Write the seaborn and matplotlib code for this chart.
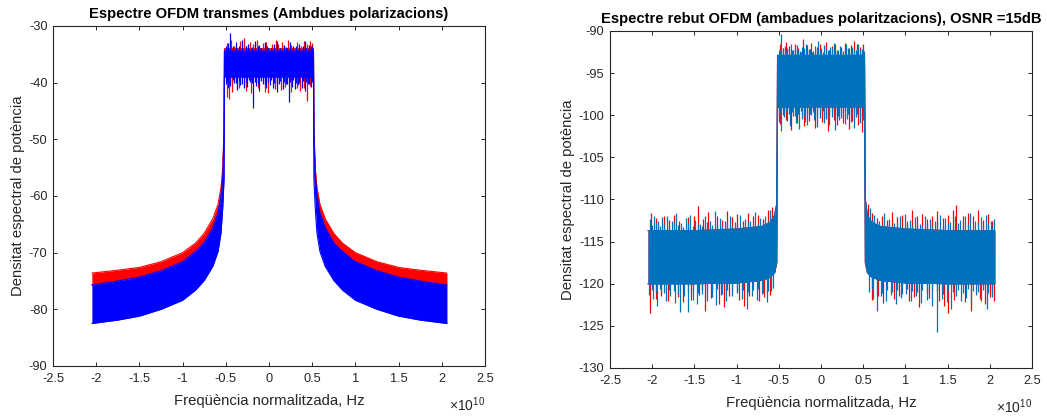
import numpy as np
import pandas as pd
import matplotlib
matplotlib.use("Agg")
import matplotlib.pyplot as plt
from matplotlib.ticker import FuncFormatter
import seaborn as sns

# ---------------- DATA (frequency in units of 1e10 Hz, PSD in dB) ----------------
# Left panel: transmitted spectrum (skirts + in-band core)
tx_x = [-2.05, -1.75, -1.5, -1.25, -1.0, -0.85, -0.75, -0.65, -0.59, -0.555, -0.535, -0.52,
        -0.515, 0.515,
        0.52, 0.535, 0.555, 0.59, 0.65, 0.75, 0.85, 1.0, 1.25, 1.5, 1.75, 2.06]
tx_red_top = [-73.6, -73.1, -72.6, -71.6, -70.0, -68.3, -66.6, -64.0, -61.5, -58.5, -55.0, -48.0,
              -34.0, -34.0,
              -48.0, -55.0, -58.5, -61.5, -64.0, -66.6, -68.3, -70.0, -71.6, -72.6, -73.1, -73.6]
tx_blue_top = [-75.7, -75.0, -74.3, -73.2, -71.6, -69.8, -68.3, -65.6, -63.0, -60.0, -56.5, -49.0,
               -34.4, -34.4,
               -49.0, -56.5, -60.0, -63.0, -65.6, -68.3, -69.8, -71.6, -73.2, -74.3, -75.0, -75.7]
tx_blue_bottom = [-82.5, -81.9, -81.2, -80.0, -78.4, -76.6, -74.9, -72.4, -69.8, -66.5, -62.0, -57.0,
                  -39.0, -39.0,
                  -57.0, -62.0, -66.5, -69.8, -72.4, -74.9, -76.6, -78.4, -80.0, -81.2, -81.9, -82.5]

# in-band spikes, left panel
tx_blue_up_x = [-0.50, -0.47, -0.45, -0.42, -0.38, -0.35, -0.31, -0.27, -0.24, -0.20, -0.16, -0.12, -0.09, -0.05,
                -0.02, 0.02, 0.06, 0.09, 0.13, 0.17, 0.20, 0.24, 0.28, 0.31, 0.35, 0.39, 0.42, 0.46, 0.49]
tx_blue_up = [-33.6, -33.0, -31.2, -33.5, -32.8, -33.8, -32.4, -33.6, -33.2, -33.9, -32.6, -33.4, -33.9, -32.9,
              -33.5, -33.8, -33.2, -32.6, -34.0, -33.3, -33.7, -32.9, -33.6, -34.0, -33.1, -33.8, -32.7, -33.4, -33.6]
tx_red_up_x = [-0.49, -0.44, -0.40, -0.33, -0.29, -0.22, -0.18, -0.14, -0.07, -0.03, 0.04, 0.08, 0.11, 0.15,
               0.22, 0.26, 0.33, 0.37, 0.41, 0.44, 0.48, 0.50]
tx_red_up = [-33.0, -32.4, -33.6, -32.7, -32.2, -32.9, -33.1, -32.5, -33.0, -32.8, -33.2, -32.4, -33.1, -32.9,
             -32.5, -33.3, -32.9, -33.5, -32.6, -33.2, -32.7, -33.0]
tx_blue_dn_x = [-0.50, -0.48, -0.45, -0.41, -0.37, -0.33, -0.29, -0.25, -0.22, -0.19, -0.15, -0.11, -0.07, -0.03,
                0.01, 0.05, 0.09, 0.12, 0.16, 0.20, 0.23, 0.27, 0.30, 0.34, 0.38, 0.42, 0.45, 0.49]
tx_blue_dn = [-40.2, -41.0, -40.6, -40.0, -41.3, -40.4, -41.0, -40.8, -39.9, -44.5, -40.6, -41.4, -40.2, -41.0,
              -40.5, -40.9, -41.6, -40.2, -41.1, -40.3, -43.5, -40.7, -41.2, -40.4, -40.9, -41.5, -40.2, -40.8]
tx_red_dn_x = [-0.49, -0.46, -0.43, -0.35, -0.27, -0.21, -0.13, -0.05, -0.01, 0.07, 0.14, 0.18, 0.25, 0.32,
               0.36, 0.40, 0.44, 0.47]
tx_red_dn = [-42.5, -42.8, -41.6, -41.0, -41.5, -41.8, -41.0, -41.6, -41.9, -41.2, -41.3, -40.8, -41.7, -40.9,
             -41.4, -41.0, -43.2, -40.6]

# fine in-band fuzz positions (shared by both panels)
band_fine_x = [-0.485, -0.45, -0.415, -0.38, -0.345, -0.31, -0.27, -0.235, -0.20, -0.16, -0.125, -0.09, -0.05,
               -0.015, 0.02, 0.06, 0.095, 0.13, 0.17, 0.205, 0.24, 0.28, 0.315, 0.35, 0.39, 0.425, 0.46, 0.495]
tx_fine_up = [-33.9, -33.6, -34.0, -33.7, -33.5, -33.9, -33.6, -34.0, -33.7, -33.8, -33.5, -33.9, -33.6, -33.8,
              -34.0, -33.7, -33.5, -33.9, -33.6, -33.8, -33.7, -34.0, -33.6, -33.8, -33.5, -33.9, -33.7, -33.6]
tx_fine_dn = [-39.8, -40.1, -39.6, -40.0, -39.7, -40.2, -39.9, -39.6, -40.0, -39.8, -40.1, -39.7, -40.3, -39.9,
              -39.6, -40.0, -40.1, -39.7, -39.9, -40.2, -39.8, -39.6, -40.0, -40.1, -39.7, -39.9, -40.2, -39.8]

# Right panel: received spectrum, OSNR = 15 dB (core band)
rx_x = [-2.05, -1.5, -1.0, -0.7, -0.6, -0.55, -0.525, -0.515, 0.515, 0.525, 0.55, 0.6, 0.7, 1.0, 1.5, 2.06]
rx_top = [-113.7, -113.7, -113.5, -113.2, -112.7, -111.9, -110.5, -92.9, -92.9, -110.0, -111.9, -112.7,
          -113.2, -113.5, -113.7, -113.7]
rx_bottom = [-120.0, -120.0, -119.9, -119.6, -119.2, -118.7, -117.5, -99.0, -99.0, -117.5, -118.7, -119.2,
             -119.6, -119.9, -120.0, -120.0]

# Right panel spikes (noise floor, both sides of the band)
rx_blue_up_x = [-2.03, -1.98, -1.93, -1.88, -1.83, -1.77, -1.72, -1.66, -1.60, -1.55, -1.49, -1.43, -1.38,
                -1.32, -1.26, -1.20, -1.14, -1.08, -1.02, -0.96, -0.90, -0.84, -0.78, -0.72, -0.66, -0.60,
                0.58, 0.63, 0.69, 0.75, 0.81, 0.87, 0.93, 0.99, 1.05, 1.11, 1.17, 1.23, 1.29, 1.35, 1.41,
                1.47, 1.53, 1.59, 1.65, 1.71, 1.77, 1.83, 1.89, 1.95, 2.01, 2.05]
rx_blue_up = [-112.3, -112.0, -112.6, -112.1, -111.9, -112.5, -111.6, -112.8, -112.2, -111.8, -112.4, -112.9,
              -112.0, -112.5, -111.4, -112.2, -112.6, -111.9, -112.7, -111.8, -112.3, -112.5, -111.5, -112.2,
              -111.9, -111.3,
              -111.0, -111.8, -112.5, -111.6, -112.3, -112.8, -112.0, -111.7, -112.4, -112.1, -112.9, -111.9,
              -112.3, -112.6, -111.8, -112.2, -112.7, -111.9, -112.4, -112.0, -111.6, -112.5, -112.1, -111.8,
              -112.6, -112.3]
rx_red_up_x = [-2.01, -1.95, -1.86, -1.80, -1.74, -1.68, -1.57, -1.51, -1.46, -1.40, -1.34, -1.23, -1.17,
               -1.11, -1.05, -0.99, -0.93, -0.87, -0.81, -0.75, -0.69, -0.63, -0.58,
               0.56, 0.61, 0.66, 0.72, 0.78, 0.84, 0.90, 0.96, 1.02, 1.08, 1.14, 1.20, 1.26, 1.32, 1.38,
               1.44, 1.50, 1.56, 1.60, 1.68, 1.74, 1.80, 1.86, 1.92, 1.98, 2.03]
rx_red_up = [-111.6, -112.2, -112.0, -112.4, -111.8, -112.6, -112.1, -111.9, -110.8, -112.3, -111.5, -112.0,
             -112.4, -111.4, -112.1, -111.7, -112.5, -111.6, -112.0, -111.8, -112.3, -111.2, -110.9,
             -110.5, -111.6, -112.2, -111.9, -112.4, -111.5, -112.1, -111.8, -112.5, -111.3, -112.0, -111.7,
             -112.3, -111.9, -111.4, -112.2, -111.8, -111.2, -110.7, -112.0, -111.6, -111.9, -111.2, -112.4,
             -111.7, -112.6]
rx_blue_dn_x = [-2.04, -1.99, -1.94, -1.89, -1.84, -1.79, -1.73, -1.67, -1.62, -1.57, -1.52, -1.47, -1.41,
                -1.35, -1.29, -1.24, -1.18, -1.12, -1.06, -1.00, -0.94, -0.88, -0.82, -0.76, -0.70, -0.64,
                -0.59,
                0.57, 0.62, 0.66, 0.71, 0.77, 0.83, 0.89, 0.95, 1.01, 1.07, 1.13, 1.19, 1.25, 1.31, 1.37,
                1.43, 1.49, 1.54, 1.60, 1.66, 1.72, 1.78, 1.84, 1.90, 1.97, 2.03]
rx_blue_dn = [-121.3, -121.8, -122.6, -121.1, -122.0, -121.5, -122.3, -123.3, -121.4, -123.4, -121.9, -122.4,
              -121.2, -122.0, -121.6, -122.5, -121.3, -122.1, -121.5, -121.0, -121.8, -123.0, -121.4, -121.9,
              -121.2, -122.2, -120.9,
              -121.0, -121.8, -123.2, -121.5, -122.0, -121.3, -122.4, -121.7, -121.2, -122.0, -121.5, -122.3,
              -121.9, -122.6, -125.7, -121.8, -122.2, -123.0, -121.5, -122.1, -121.7, -122.4, -121.3, -122.0,
              -123.0, -121.6]
rx_red_dn_x = [-2.02, -1.96, -1.90, -1.81, -1.70, -1.64, -1.54, -1.44, -1.38, -1.30, -1.21, -1.15, -1.09,
               -0.97, -0.91, -0.85, -0.73, -0.67, -0.61,
               0.60, 0.68, 0.74, 0.86, 0.92, 1.04, 1.10, 1.16, 1.28, 1.40, 1.46, 1.50, 1.58, 1.70, 1.78,
               1.88, 1.94, 2.00, 2.05]
rx_red_dn = [-123.5, -121.8, -121.4, -122.0, -121.6, -122.2, -121.9, -121.3, -123.2, -121.7, -122.4, -122.8,
             -121.5, -121.9, -122.6, -121.4, -122.0, -121.6, -121.3,
             -121.9, -121.4, -122.3, -121.8, -121.5, -122.0, -121.6, -122.8, -121.7, -122.1, -122.6, -123.5,
             -121.9, -122.2, -123.2, -121.8, -122.4, -121.6, -122.0]
# fine noise-floor fuzz (blue)
rx_fine_x = [-2.005, -1.955, -1.905, -1.855, -1.80, -1.745, -1.69, -1.63, -1.575, -1.52, -1.46, -1.405, -1.35,
             -1.29, -1.23, -1.17, -1.11, -1.05, -0.99, -0.93, -0.87, -0.81, -0.75, -0.69, -0.63, -0.57,
             0.605, 0.66, 0.72, 0.78, 0.84, 0.90, 0.96, 1.02, 1.08, 1.14, 1.20, 1.26, 1.32, 1.38, 1.44, 1.50,
             1.56, 1.62, 1.68, 1.74, 1.80, 1.86, 1.92, 1.98, 2.03]
rx_fine_up = [-113.0, -112.8, -113.2, -112.9, -113.1, -112.7, -113.0, -113.3, -112.8, -113.1, -112.9, -113.2,
              -112.7, -113.0, -112.9, -113.2, -112.8, -113.1, -112.9, -113.0, -112.7, -113.2, -112.9, -112.8,
              -112.6, -112.3,
              -112.4, -112.8, -113.0, -112.9, -113.2, -112.8, -113.1, -112.9, -113.0, -112.7, -113.2, -112.9,
              -113.1, -112.8, -113.0, -112.9, -113.2, -112.8, -113.0, -112.9, -113.1, -112.7, -113.0, -112.9,
              -113.1]
rx_fine_dn = [-120.8, -121.0, -120.6, -121.1, -120.7, -120.9, -121.2, -120.6, -121.0, -120.8, -121.1, -120.7,
              -120.9, -121.0, -120.6, -121.2, -120.8, -120.9, -121.1, -120.7, -121.0, -120.8, -120.6, -121.1,
              -120.9, -120.5,
              -120.6, -120.9, -121.1, -120.7, -121.0, -120.8, -121.2, -120.6, -120.9, -121.0, -120.7, -121.1,
              -120.8, -120.9, -121.2, -120.7, -121.0, -120.8, -121.1, -120.6, -120.9, -121.0, -120.7, -121.1,
              -120.8]

# Right panel in-band spikes
rxb_blue_up_x = [-0.50, -0.47, -0.43, -0.40, -0.36, -0.33, -0.29, -0.25, -0.22, -0.18, -0.14, -0.11, -0.07,
                 -0.03, 0.00, 0.04, 0.08, 0.11, 0.15, 0.19, 0.22, 0.26, 0.30, 0.33, 0.37, 0.41, 0.44, 0.48, 0.51]
rxb_blue_up = [-92.3, -90.3, -91.8, -92.0, -91.5, -92.2, -91.7, -92.4, -91.9, -91.6, -92.1, -92.5, -91.8,
               -91.2, -92.0, -91.7, -92.3, -91.9, -91.4, -92.2, -91.8, -92.4, -91.6, -92.0, -91.9, -92.3,
               -91.5, -92.1, -92.4]
rxb_red_up_x = [-0.49, -0.45, -0.41, -0.38, -0.31, -0.27, -0.21, -0.16, -0.12, -0.05, -0.01, 0.06, 0.13,
                0.17, 0.24, 0.28, 0.35, 0.39, 0.43, 0.46, 0.50]
rxb_red_up = [-91.6, -92.0, -91.3, -91.8, -91.5, -92.0, -91.0, -91.7, -91.4, -91.9, -91.6, -91.3, -91.8,
              -91.5, -91.9, -91.4, -91.7, -91.2, -91.5, -91.9, -91.6]
rxb_blue_dn_x = [-0.50, -0.47, -0.44, -0.40, -0.37, -0.33, -0.30, -0.26, -0.23, -0.19, -0.16, -0.12, -0.08,
                 -0.05, -0.01, 0.03, 0.06, 0.10, 0.13, 0.17, 0.21, 0.24, 0.28, 0.31, 0.35, 0.39, 0.42, 0.46, 0.50]
rxb_blue_dn = [-100.8, -101.9, -100.2, -100.7, -101.3, -100.1, -100.9, -101.6, -100.4, -100.8, -101.2, -100.0,
               -100.6, -101.4, -100.3, -100.9, -100.5, -101.1, -100.2, -101.7, -100.6, -100.3, -101.0, -100.5,
               -100.8, -101.5, -100.2, -100.9, -100.6]
rxb_red_dn_x = [-0.48, -0.42, -0.35, -0.28, -0.20, -0.14, -0.07, 0.01, 0.08, 0.15, 0.19, 0.26, 0.33, 0.37,
                0.44, 0.48]
rxb_red_dn = [-101.0, -100.6, -101.8, -100.9, -101.3, -100.7, -101.5, -100.8, -101.9, -100.6, -101.2, -100.9,
              -101.6, -100.7, -101.1, -102.0]
rxb_fine_up = [-92.2, -92.0, -92.4, -92.1, -92.3, -91.9, -92.2, -92.5, -92.0, -92.3, -92.1, -92.4, -92.0, -92.2,
               -92.5, -92.1, -92.3, -92.0, -92.4, -92.2, -92.1, -92.3, -92.0, -92.4, -92.2, -92.1, -92.3, -92.0]
rxb_fine_dn = [-99.7, -100.0, -99.5, -99.9, -99.6, -100.1, -99.8, -99.5, -100.0, -99.7, -99.9, -99.6, -100.2,
               -99.8, -99.5, -99.9, -100.0, -99.6, -99.8, -100.1, -99.7, -99.5, -99.9, -100.0, -99.6, -99.8,
               -100.1, -99.7]

x_ticks = [-2.5, -2, -1.5, -1, -0.5, 0, 0.5, 1, 1.5, 2, 2.5]
left_yticks = [-90, -80, -70, -60, -50, -40, -30]
right_yticks = [-130, -125, -120, -115, -110, -105, -100, -95, -90]

title_left = "Espectre OFDM transmes (Ambdues polarizacions)"
title_right = "Espectre rebut OFDM (ambadues polaritzacions), OSNR =15dB"
xlabel = "Freqüència normalitzada, Hz"
ylabel = "Densitat espectral de potència"

# ---------------- STYLE ----------------
sns.set_theme(style="white")
plt.rcParams.update({
    "axes.edgecolor": "#262626",
    "axes.linewidth": 0.8,
    "xtick.direction": "in",
    "ytick.direction": "in",
    "xtick.top": True,
    "ytick.right": True,
    "xtick.bottom": True,
    "ytick.left": True,
    "xtick.major.size": 3.2,
    "ytick.major.size": 3.2,
    "xtick.major.width": 0.7,
    "ytick.major.width": 0.7,
    "xtick.color": "#262626",
    "ytick.color": "#262626",
    "axes.unicode_minus": False,
    "mathtext.fontset": "custom",
    "mathtext.rm": "Liberation Sans",
})
plt.rcParams["font.family"] = ["Liberation Sans", "DejaVu Sans"]

RED = "#FF0000"
BLUE_L = "#0000FF"
BLUE_R = "#0072BD"

fig = plt.figure(figsize=(10.47, 4.16), dpi=100)
axL = fig.add_axes([0.0506, 0.1202, 0.4126, 0.8173])
axR = fig.add_axes([0.5826, 0.1154, 0.4031, 0.8101])


def band(ax, x, top, bottom, color, z):
    ax.fill_between(x, bottom, top, color=color, lw=0, zorder=z)
    df = pd.DataFrame({"x": x, "top": top, "bottom": bottom})
    sns.lineplot(data=df, x="x", y="top", ax=ax, color=color, lw=0.8, sort=False, estimator=None, zorder=z)
    sns.lineplot(data=df, x="x", y="bottom", ax=ax, color=color, lw=0.8, sort=False, estimator=None, zorder=z)


def spikes(ax, xs, tips, base, color, z, lw=0.9):
    ax.vlines(xs, base, tips, color=color, lw=lw, zorder=z)


# Left panel: red first, blue on top
band(axL, tx_x, tx_red_top, tx_blue_top, RED, 1)
spikes(axL, tx_red_up_x, tx_red_up, -36.5, RED, 2)
spikes(axL, tx_red_dn_x, tx_red_dn, -36.5, RED, 2)
band(axL, tx_x, tx_blue_top, tx_blue_bottom, BLUE_L, 3)
spikes(axL, band_fine_x, tx_fine_up, -36.5, BLUE_L, 4)
spikes(axL, band_fine_x, tx_fine_dn, -36.5, BLUE_L, 4)
spikes(axL, tx_blue_up_x, tx_blue_up, -36.5, BLUE_L, 4)
spikes(axL, tx_blue_dn_x, tx_blue_dn, -36.5, BLUE_L, 4)

# Right panel
band(axR, rx_x, rx_top, rx_bottom, RED, 1)
spikes(axR, rx_red_up_x, rx_red_up, -116.5, RED, 2)
spikes(axR, rx_red_dn_x, rx_red_dn, -116.5, RED, 2)
spikes(axR, rxb_red_up_x, rxb_red_up, -96.0, RED, 2)
spikes(axR, rxb_red_dn_x, rxb_red_dn, -96.0, RED, 2)
band(axR, rx_x, rx_top, rx_bottom, BLUE_R, 3)
spikes(axR, rx_fine_x, rx_fine_up, -116.5, BLUE_R, 4)
spikes(axR, rx_fine_x, rx_fine_dn, -116.5, BLUE_R, 4)
spikes(axR, band_fine_x, rxb_fine_up, -96.0, BLUE_R, 4)
spikes(axR, band_fine_x, rxb_fine_dn, -96.0, BLUE_R, 4)
spikes(axR, rx_blue_up_x, rx_blue_up, -116.5, BLUE_R, 4)
spikes(axR, rx_blue_dn_x, rx_blue_dn, -116.5, BLUE_R, 4)
spikes(axR, rxb_blue_up_x, rxb_blue_up, -96.0, BLUE_R, 4)
spikes(axR, rxb_blue_dn_x, rxb_blue_dn, -96.0, BLUE_R, 4)

fmt = FuncFormatter(lambda v, p: "%g" % v)
for ax, yt, title, ylx in [(axL, left_yticks, title_left, -0.064), (axR, right_yticks, title_right, -0.084)]:
    ax.set_xlim(-2.5, 2.5)
    ax.set_ylim(yt[0], yt[-1])
    ax.set_xticks(x_ticks)
    ax.set_yticks(yt)
    ax.xaxis.set_major_formatter(fmt)
    ax.yaxis.set_major_formatter(fmt)
    ax.tick_params(labelsize=9.2, pad=4)
    ax.tick_params(axis="x", pad=5)
    ax.set_title(title, fontsize=10.6, fontweight="bold", pad=5.5, color="#000000")
    ax.set_xlabel(xlabel, fontsize=10.7, color="#262626")
    ax.set_ylabel(ylabel, fontsize=10.7, color="#262626")
    ax.xaxis.set_label_coords(0.5, -0.083)
    ax.yaxis.set_label_coords(ylx, 0.5)
    ax.text(1.0, -0.086, r"$\times$10$^{10}$", transform=ax.transAxes, ha="right", va="top",
            fontsize=10, color="#262626")
    for s in ax.spines.values():
        s.set_visible(True)
        s.set_color("#262626")
        s.set_zorder(10)

fig.savefig("out.png", dpi=100)
